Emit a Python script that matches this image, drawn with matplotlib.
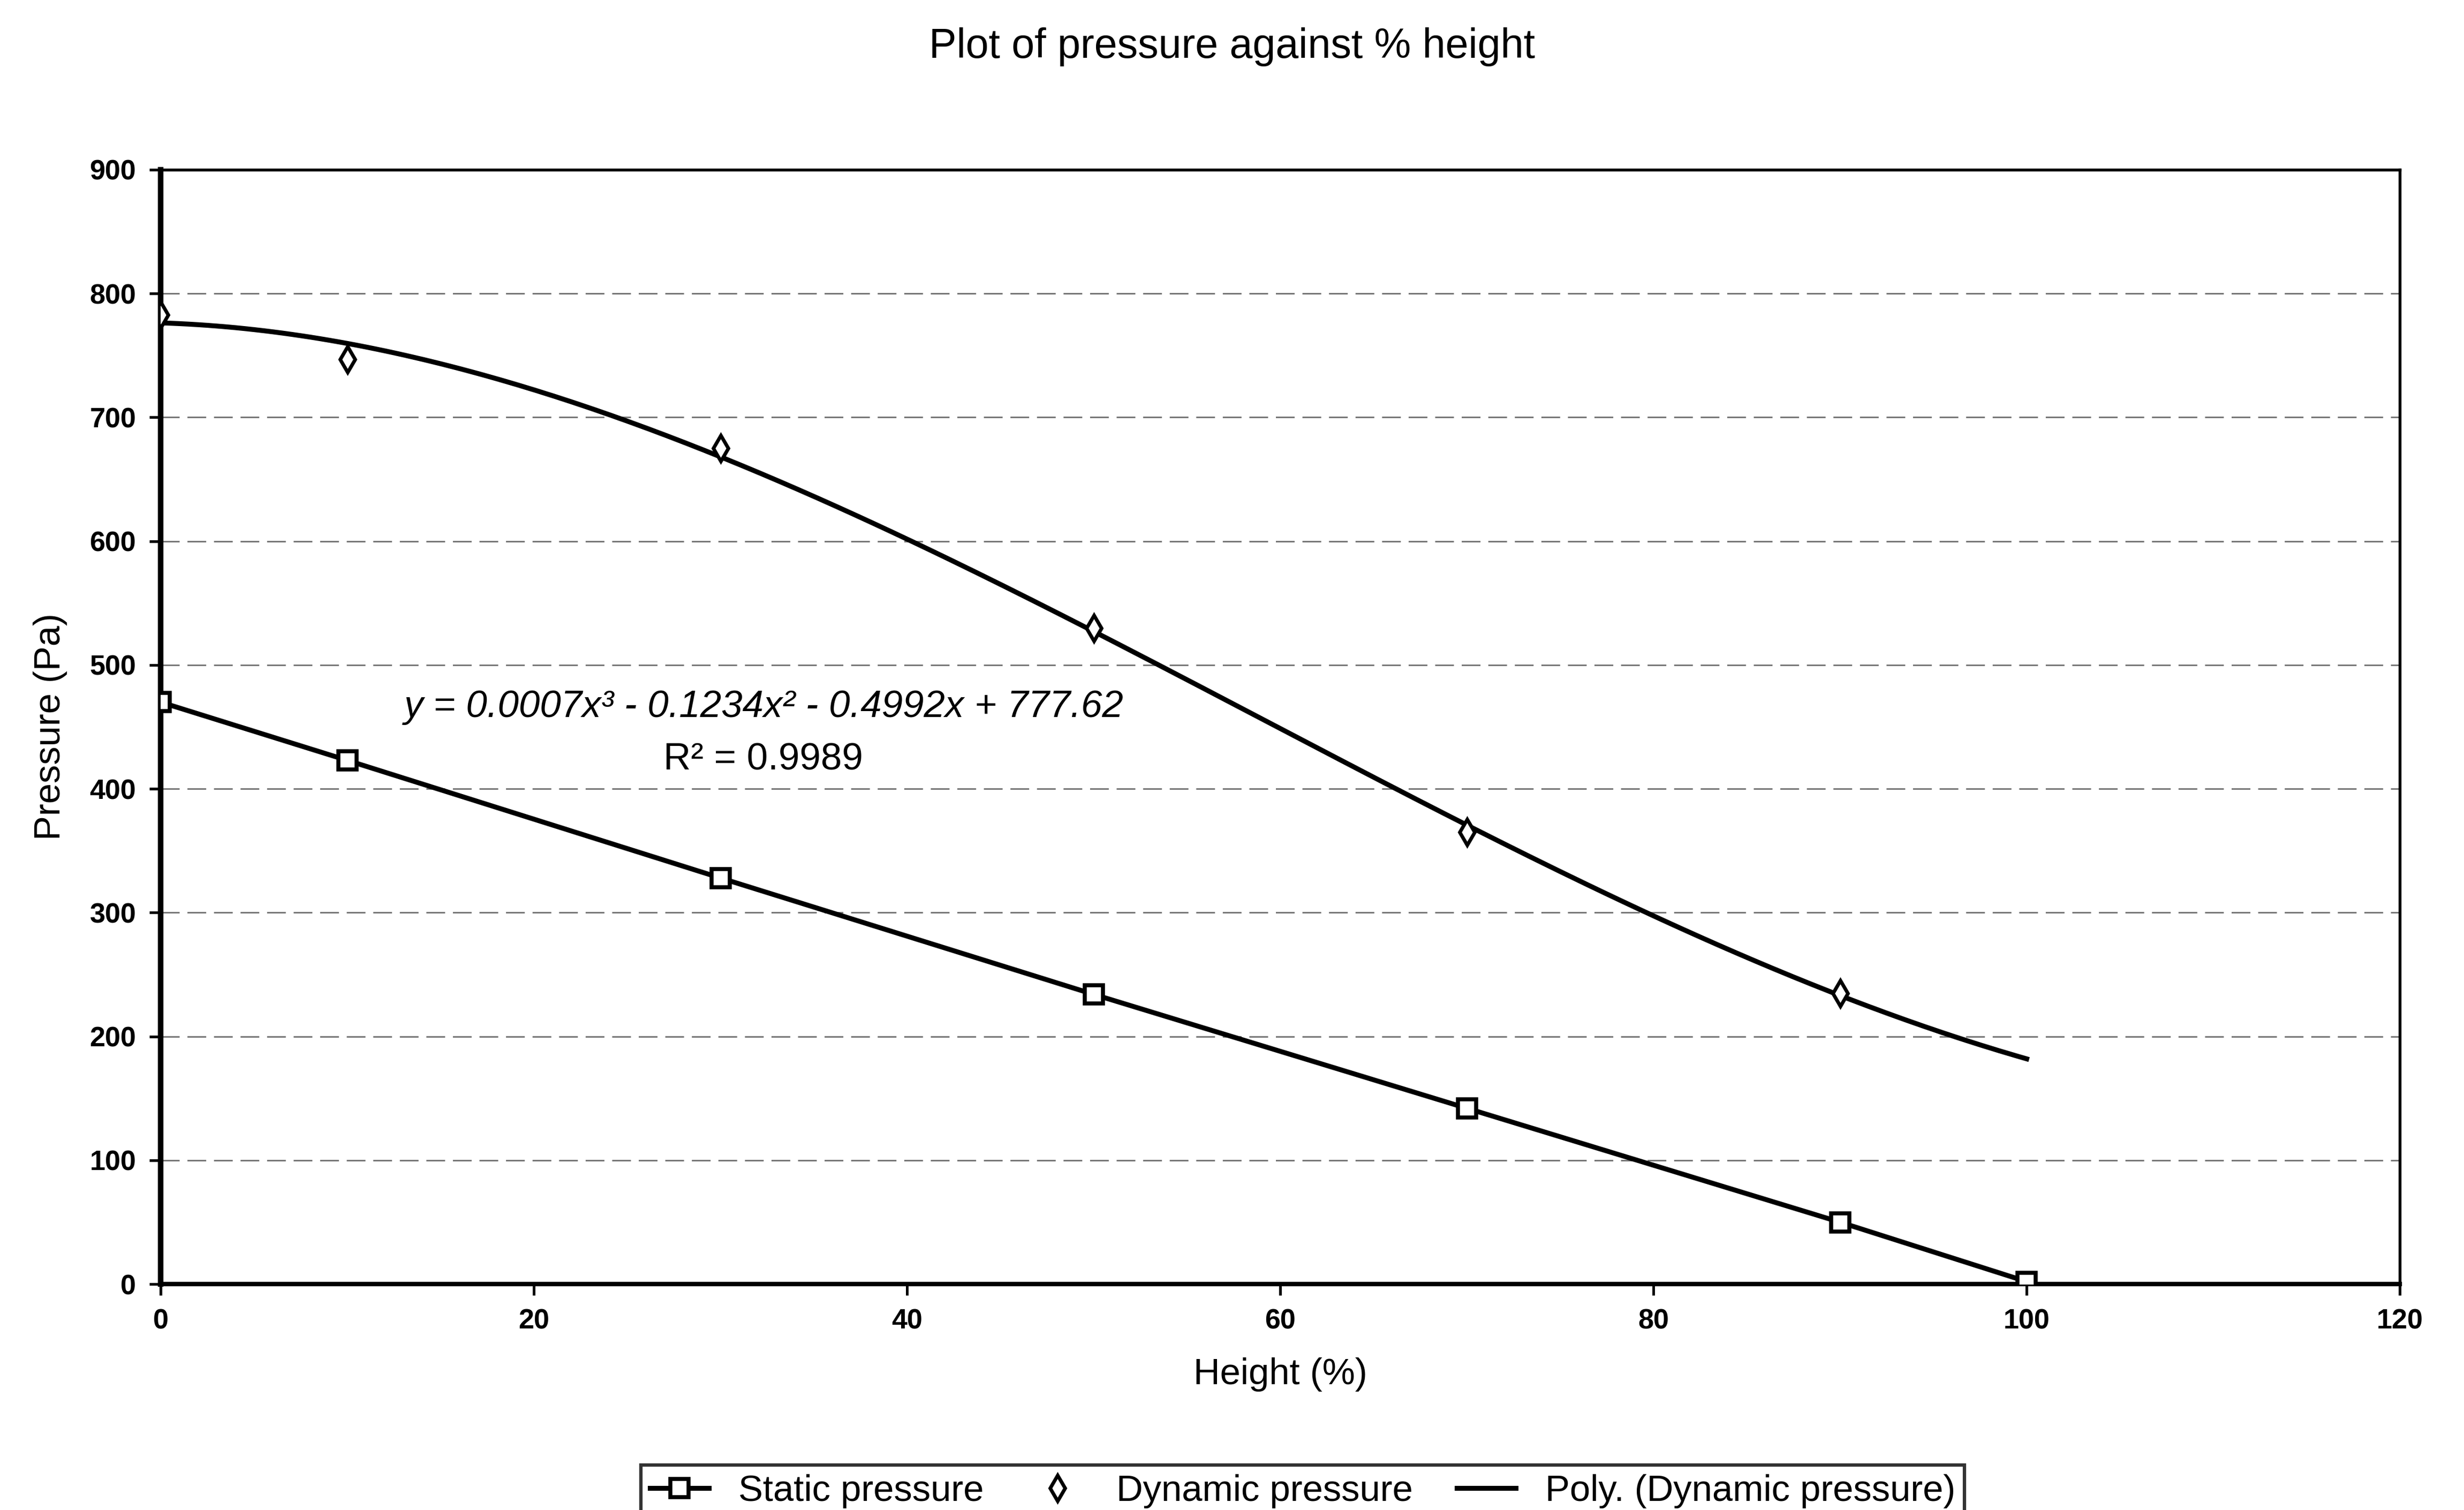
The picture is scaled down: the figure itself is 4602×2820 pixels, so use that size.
import matplotlib
matplotlib.use("Agg")
import matplotlib.pyplot as plt
import numpy as np

plt.rcParams['font.family'] = ['Liberation Sans', 'DejaVu Sans']

# data
height_static = [0, 10, 30, 50, 70, 90, 100]
static_p = [470, 423, 328, 234, 142, 50, 2]
height_dyn = [0, 10, 30, 50, 70, 90]
dynamic_p = [783, 747, 675, 530, 365, 235]

xticks = [0, 20, 40, 60, 80, 100, 120]
yticks = [0, 100, 200, 300, 400, 500, 600, 700, 800, 900]

eq_text = 'y = 0.0007x\u00b3 - 0.1234x\u00b2 - 0.4992x + 777.62'
r2_text = 'R\u00b2 = 0.9989'

# Excel style 3rd order trendline over 0..100
coef = np.polyfit(height_dyn, dynamic_p, 3)
xs = np.linspace(0, 100, 200)
ys = np.polyval(coef, xs)

fig = plt.figure(figsize=(15.34, 9.4), dpi=300)
ax = fig.add_axes([0.0652, 0.1496, 0.9088, 0.738])

for yv in yticks[1:-1]:
    ax.axhline(yv, color='#777777', lw=0.7, ls=(0, (12, 5)), zorder=1)

ax.plot(height_static, static_p, color='black', lw=2.2, marker='s', ms=8,
        mfc='white', mec='black', mew=1.8, label='Static pressure', zorder=3)
ax.plot(height_dyn, dynamic_p, ls='none', marker='d', ms=8, mfc='white',
        mec='black', mew=1.6, label='Dynamic pressure', zorder=4)
ax.plot(xs, ys, color='black', lw=2.2, label='Poly. (Dynamic pressure)', zorder=2)

ax.set_xlim(0, 120)
ax.set_ylim(0, 900)
ax.set_xticks(xticks)
ax.set_yticks(yticks)
ax.tick_params(axis='both', direction='out', length=5, width=1.2, labelsize=12.5, pad=6)
for lab in ax.get_xticklabels() + ax.get_yticklabels():
    lab.set_fontweight('bold')
for s in ax.spines.values():
    s.set_linewidth(1.3)
ax.spines['left'].set_linewidth(2.5)
ax.spines['bottom'].set_linewidth(2.0)

ax.set_xlabel('Height (%)', fontsize=16.5, labelpad=10)
ax.set_ylabel('Pressure (Pa)', fontsize=16.5, labelpad=10)
fig.text(0.5, 0.969, 'Plot of pressure against % height', ha='center', va='center', fontsize=18.5)

ax.text(32.3, 466, eq_text, ha='center', va='center', fontsize=17, style='italic')
ax.text(32.3, 423, r2_text, ha='center', va='center', fontsize=17)

leg = fig.legend(loc='upper center', bbox_to_anchor=(0.5287, 0.042), ncol=3,
                 fontsize=16.5, frameon=True, fancybox=False, edgecolor='black',
                 handlelength=1.6, columnspacing=1.2, borderpad=0.25)
leg.get_frame().set_linewidth(1.5)

fig.savefig('out.png', dpi=300)
